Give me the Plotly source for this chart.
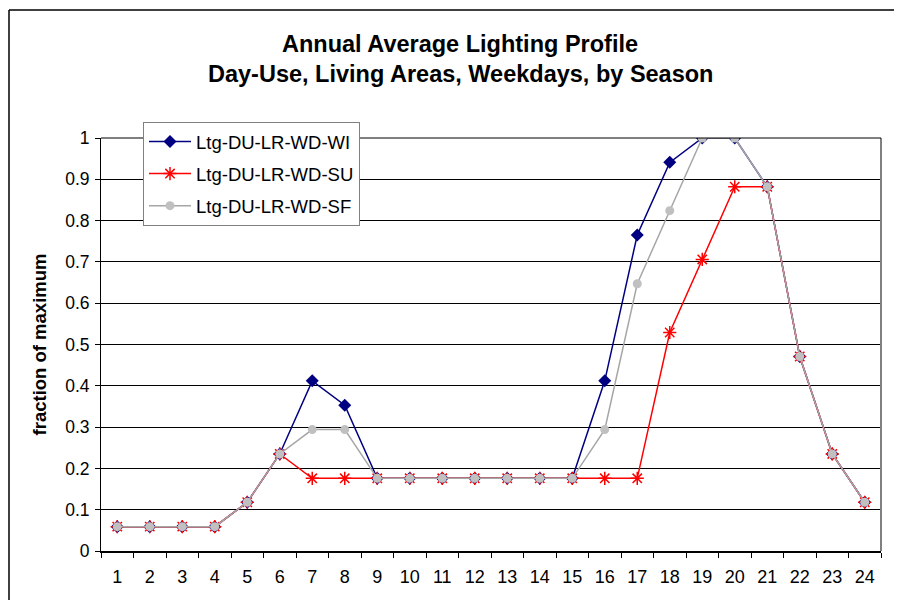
import plotly.graph_objects as go

hours = [str(h) for h in range(1, 25)]
wi = [0.059, 0.059, 0.059, 0.059, 0.118, 0.235, 0.412, 0.353, 0.176, 0.176, 0.176, 0.176,
      0.176, 0.176, 0.176, 0.412, 0.765, 0.941, 1.0, 1.0, 0.882, 0.471, 0.235, 0.118]
su = [0.059, 0.059, 0.059, 0.059, 0.118, 0.235, 0.176, 0.176, 0.176, 0.176, 0.176, 0.176,
      0.176, 0.176, 0.176, 0.176, 0.176, 0.529, 0.706, 0.882, 0.882, 0.471, 0.235, 0.118]
sf = [0.059, 0.059, 0.059, 0.059, 0.118, 0.235, 0.294, 0.294, 0.176, 0.176, 0.176, 0.176,
      0.176, 0.176, 0.176, 0.294, 0.647, 0.824, 1.0, 1.0, 0.882, 0.471, 0.235, 0.118]
names = ["Ltg-DU-LR-WD-WI", "Ltg-DU-LR-WD-SU", "Ltg-DU-LR-WD-SF"]
y_ticks = [0, 0.1, 0.2, 0.3, 0.4, 0.5, 0.6, 0.7, 0.8, 0.9, 1]
y_labels = ["0", "0.1", "0.2", "0.3", "0.4", "0.5", "0.6", "0.7", "0.8", "0.9", "1"]

FONT = "Arial, Liberation Sans, sans-serif"

# page pixel positions of plot area (figure is offset 8px by body margin)
PL, PR, PT, PB = 101, 881, 138, 551
W_, H_ = PR - PL, PB - PT
FIG_W, FIG_H = 894, 592


def px(x):
    return (x - PL) / W_


def py(y):
    return (PB - y) / H_


fig = go.Figure()
fig.add_trace(go.Scatter(x=hours, y=wi, name=names[0], mode="lines+markers", legendgroup="a",
                         line=dict(color="#000080", width=1.5),
                         marker=dict(symbol="diamond", size=10, color="#000080")))
fig.add_trace(go.Scatter(x=hours, y=su, name=names[1], mode="lines+markers", legendgroup="b",
                         line=dict(color="#FF0000", width=1.5),
                         marker=dict(symbol="asterisk-open", size=11, color="#FF0000",
                                     line=dict(color="#FF0000", width=1.5))))
fig.add_trace(go.Scatter(x=hours, y=sf, name=names[2], mode="lines+markers", legendgroup="c",
                         line=dict(color="#A6A6A6", width=1.5),
                         marker=dict(symbol="circle", size=9, color="#C0C0C0")))

fig.update_layout(
    width=FIG_W, height=FIG_H,
    margin=dict(l=PL - 8, r=FIG_W - (PR - 8), t=PT - 8, b=FIG_H - (PB - 8)),
    paper_bgcolor="white", plot_bgcolor="white",
    font=dict(family=FONT, size=18, color="black"),
    showlegend=True,
    legend=dict(x=px(143), y=py(122), xanchor="left", yanchor="top",
                bgcolor="white", bordercolor="#808080", borderwidth=1,
                font=dict(family=FONT, size=18.5, color="black"),
                itemwidth=42,
                tracegroupgap=5, traceorder="grouped"),
    xaxis=dict(type="category", tickson="boundaries", ticks="outside", ticklen=5,
               tickcolor="black", tickwidth=1, showgrid=False,
               showline=True, linecolor="black", linewidth=2,
               tickfont=dict(family=FONT, size=18, color="black"),
               ticklabelstandoff=8,
               range=[-0.5, 23.5]),
    yaxis=dict(range=[0, 1], tickvals=y_ticks, ticktext=y_labels, ticks="outside",
               ticklen=5, tickcolor="black", showgrid=True, gridcolor="black",
               gridwidth=1, zeroline=False, showline=True, linecolor="black", linewidth=1,
               tickfont=dict(family=FONT, size=17.5, color="black"),
               ticklabelstandoff=2,
               title=dict(text="<b>fraction of maximum</b>", font=dict(family=FONT, size=18.5),
                          standoff=13)),
    annotations=[
        dict(text="<b>Annual Average Lighting Profile</b>", xref="paper", yref="paper",
             x=px(460), y=py(44), xanchor="center", yanchor="middle",
             showarrow=False, font=dict(family=FONT, size=23.5, color="black")),
        dict(text="<b>Day-Use, Living Areas, Weekdays, by Season</b>", xref="paper",
             yref="paper", x=px(460), y=py(74), xanchor="center",
             yanchor="middle", showarrow=False, font=dict(family=FONT, size=23.5, color="black")),
    ],
    shapes=[
        # outer chart frame (left and top edges visible; right/bottom lie outside the picture)
        dict(type="line", xref="paper", yref="paper", x0=px(9), x1=px(9),
             y0=py(640), y1=py(10), line=dict(color="black", width=1.5), layer="below"),
        dict(type="line", xref="paper", yref="paper", x0=px(9), x1=px(920),
             y0=py(10), y1=py(10), line=dict(color="black", width=1.5), layer="below"),
        dict(type="line", xref="paper", yref="paper", x0=1, x1=1, y0=0, y1=1,
             line=dict(color="#808080", width=2)),
        dict(type="line", xref="paper", yref="paper", x0=0, x1=1, y0=1, y1=1,
             line=dict(color="black", width=1)),
    ],
)

fig.write_html("out.html")
